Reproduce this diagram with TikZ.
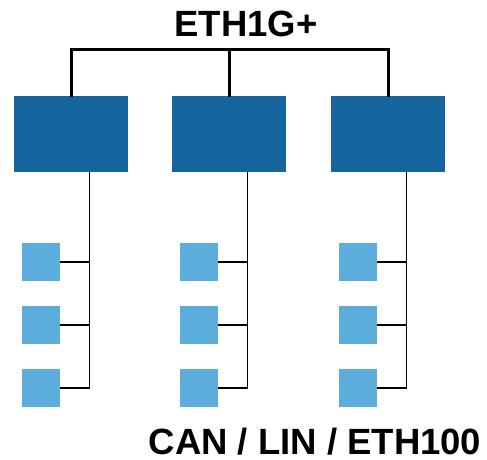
\documentclass[tikz,border=0pt]{standalone}
\usepackage{fontspec}
\setmainfont{Liberation Sans}
\definecolor{ecu}{RGB}{22,100,158}
\definecolor{leaf}{RGB}{93,173,220}
\begin{document}
\begin{tikzpicture}[x=1pt,y=-1pt,
  gateway/.style={fill=ecu,draw=none,minimum width=114pt,minimum height=76pt,inner sep=0pt},
  node box/.style={fill=leaf,draw=none,minimum width=38pt,minimum height=38pt,inner sep=0pt},
  bus/.style={line width=3pt,line join=miter,line cap=rect},
  branch/.style={line width=1.3pt,line join=miter},
  label/.style={font=\bfseries\fontsize{36.5}{40}\selectfont,inner sep=0pt,anchor=base}]
\useasboundingbox (0,0) rectangle (487,459);

% backbone title
\node[label] (title) at (246,36) {ETH1G+};

% gateways and their attached nodes
\foreach \i/\dx in {1/0,2/158,3/317}{
  \node[gateway] (gw\i) at (71+\dx,134) {};
  \coordinate (trunk\i) at (89.5+\dx,134);
  \foreach \j/\y in {1/262,2/325,3/388}{
    \node[node box] (n\i\j) at (40.5+\dx,\y) {};
    \draw[branch] (n\i\j.east) -- (n\i\j.east -| trunk\i);
  }
  \draw[branch] (gw\i.south -| trunk\i) -- (n\i3.east -| trunk\i);
}

% backbone bus
\coordinate (busline) at (0,49);
\draw[bus] (gw1.north) -- (gw1.north |- busline) -- (gw3.north |- busline) -- (gw3.north);
\draw[bus] (gw2.north) -- (gw2.north |- busline);

% sub-network label
\node[label] (sublabel) at (315,454) {CAN / LIN / ETH100};
\end{tikzpicture}
\end{document}
